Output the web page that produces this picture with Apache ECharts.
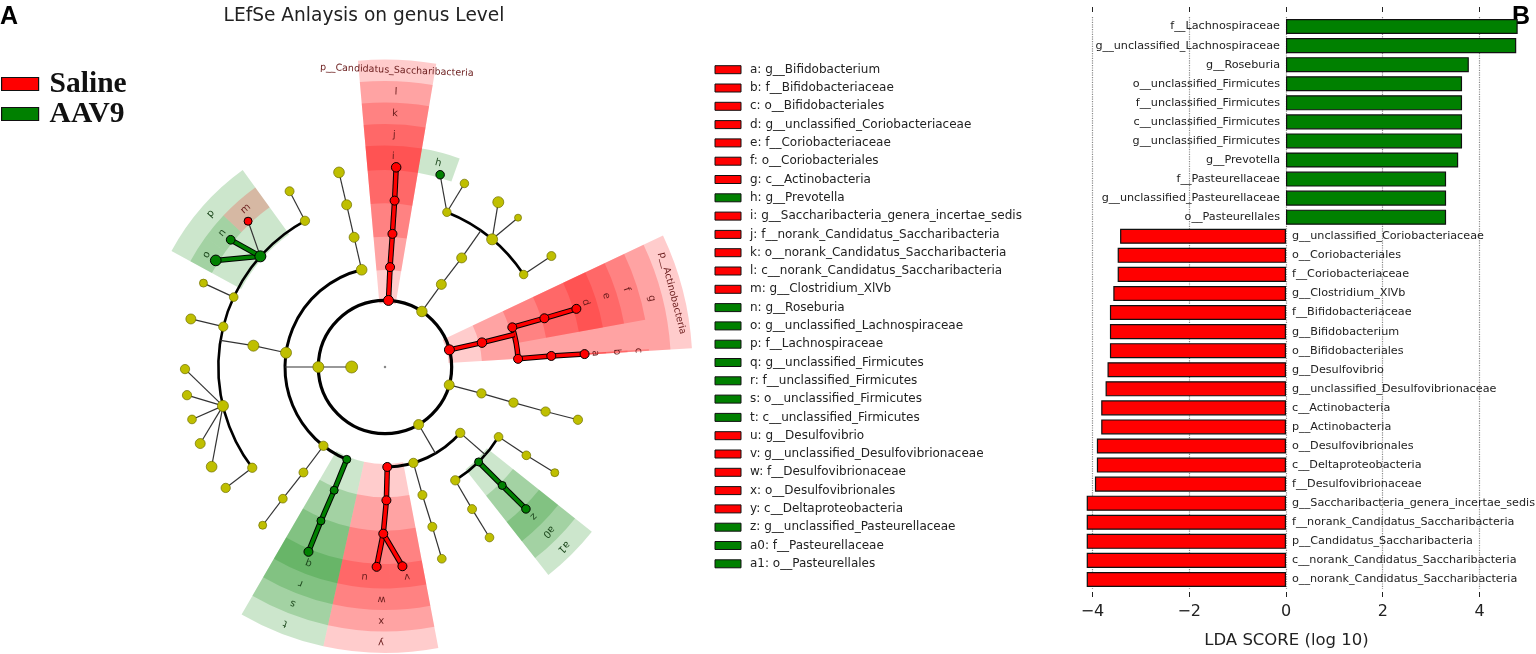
<!DOCTYPE html>
<html><head><meta charset="utf-8">
<script src="https://cdn.jsdelivr.net/npm/echarts@6/dist/echarts.min.js"></script>
<style>html,body{margin:0;padding:0;background:#fff}#c{width:1536px;height:654px}</style>
</head><body><div id="c"></div>
<script>
// ---------------- Bar chart (panel B) ----------------
const barNames = [
  'f__Lachnospiraceae','g__unclassified_Lachnospiraceae','g__Roseburia','o__unclassified_Firmicutes',
  'f__unclassified_Firmicutes','c__unclassified_Firmicutes','g__unclassified_Firmicutes','g__Prevotella',
  'f__Pasteurellaceae','g__unclassified_Pasteurellaceae','o__Pasteurellales',
  'g__unclassified_Coriobacteriaceae','o__Coriobacteriales','f__Coriobacteriaceae','g__Clostridium_XlVb',
  'f__Bifidobacteriaceae','g__Bifidobacterium','o__Bifidobacteriales','g__Desulfovibrio',
  'g__unclassified_Desulfovibrionaceae','c__Actinobacteria','p__Actinobacteria','o__Desulfovibrionales',
  'c__Deltaproteobacteria','f__Desulfovibrionaceae','g__Saccharibacteria_genera_incertae_sedis',
  'f__norank_Candidatus_Saccharibacteria','p__Candidatus_Saccharibacteria',
  'c__norank_Candidatus_Saccharibacteria','o__norank_Candidatus_Saccharibacteria'
];
const barValues = [
  4.79, 4.76, 3.78, 3.64, 3.64, 3.64, 3.64, 3.56, 3.31, 3.31, 3.31,
  -3.43, -3.48, -3.48, -3.57, -3.64, -3.64, -3.64, -3.69, -3.73, -3.82, -3.82,
  -3.91, -3.91, -3.95, -4.12, -4.12, -4.12, -4.12, -4.12
];
const ldaTicks = [-4, -2, 0, 2, 4];
const groupNames = ['Saline', 'AAV9'];

// ---------------- Cladogram legend (panel A) ----------------
const legendLetters = ['a','b','c','d','e','f','g','h','i','j','k','l','m','n','o','p','q','r','s','t','u','v','w','x','y','z','a0','a1'];
const legendTaxa = [
  'g__Bifidobacterium','f__Bifidobacteriaceae','o__Bifidobacteriales','g__unclassified_Coriobacteriaceae',
  'f__Coriobacteriaceae','o__Coriobacteriales','c__Actinobacteria','g__Prevotella',
  'g__Saccharibacteria_genera_incertae_sedis','f__norank_Candidatus_Saccharibacteria',
  'o__norank_Candidatus_Saccharibacteria','c__norank_Candidatus_Saccharibacteria','g__Clostridium_XlVb',
  'g__Roseburia','g__unclassified_Lachnospiraceae','f__Lachnospiraceae','g__unclassified_Firmicutes',
  'f__unclassified_Firmicutes','o__unclassified_Firmicutes','c__unclassified_Firmicutes','g__Desulfovibrio',
  'g__unclassified_Desulfovibrionaceae','f__Desulfovibrionaceae','o__Desulfovibrionales',
  'c__Deltaproteobacteria','g__unclassified_Pasteurellaceae','f__Pasteurellaceae','o__Pasteurellales'
];
const legendNodes = ['G_bif','F_bif','O_bif','G_cor','F_cor','O_cor','C_act','G_prev','G_sac','F_sac','O_sac','C_sac',
  'G_clx','G_ros','G_ulc','F_lac','G_ucf','F_ucf','O_ucf','C_ucf','G_dsv','G_ucd','F_des','O_des','C_del','G_pas','F_pas','O_pas'];
const phylumLabelNodes = ['P_sac', 'P_act'];
const phylumLabelTexts = ['p__Candidatus_Saccharibacteria', 'p__Actinobacteria'];

// ---------------- Cladogram tree: [id, parent, level, angle(deg, clockwise from top), group, node size] ----------------
const treeNodes = [
  ['root',null,0,0,'k',2.5],
  ['K','root',1,270,'y',12],
  ['P_sac','K',2,3.0,'r',10], ['P_bac','K',2,33.6,'y',10.5], ['P_act','K',2,75.1,'r',10],
  ['P_x','K',2,105.6,'y',10], ['P_pro','K',2,149.7,'y',10], ['P_fir','K',2,270,'y',11],
  ['C_sac','P_sac',3,2.9,'r',9], ['O_sac','C_sac',4,3.2,'r',9], ['F_sac','O_sac',5,3.3,'r',9], ['G_sac','F_sac',6,3.2,'r',9.5],
  ['C_bac','P_bac',3,34.3,'y',10], ['O_bac','C_bac',4,35.1,'y',10],
  ['F_bac1','O_bac',5,21.8,'y',8.5], ['G_prev','F_bac1',6,16,'g',8.5], ['G_bac2','F_bac1',6,23.4,'y',8.5],
  ['F_bac2','O_bac',5,40,'y',11], ['G_bac3','F_bac2',6,34.5,'y',11], ['G_bac4','F_bac2',6,41.7,'y',7],
  ['F_bac3','O_bac',5,56.3,'y',8.5], ['G_bac5','F_bac3',6,56.3,'y',9],
  ['C_act','P_act',3,75.9,'r',9.5],
  ['O_cor','C_act',4,72.7,'r',9], ['F_cor','O_cor',5,73,'r',9], ['G_cor','F_cor',6,73.1,'r',9],
  ['O_bif','C_act',4,86.5,'r',9], ['F_bif','O_bif',5,86.2,'r',9], ['G_bif','F_bif',6,86.3,'r',9],
  ['C_x','P_x',3,105.3,'y',9.3], ['O_x','C_x',4,105.5,'y',9.3], ['F_x','O_x',5,105.5,'y',9.3], ['G_x','F_x',6,105.3,'y',9.3],
  ['C_gam','P_pro',3,131.2,'y',9.3],
  ['O_g1','C_gam',4,121.6,'y',8.7], ['F_g1','O_g1',5,122,'y',8.7], ['G_g1','F_g1',6,121.9,'y',8],
  ['O_pas','C_gam',4,135.4,'g',8], ['F_pas','O_pas',5,135.3,'g',8], ['G_pas','F_pas',6,135.2,'g',8.5],
  ['O_g3','C_gam',4,148.2,'y',9.3], ['F_g3','O_g3',5,148.5,'y',9], ['G_g3','F_g3',6,148.5,'y',8.7],
  ['C_b2','P_pro',3,163.5,'y',9.3], ['O_b2','C_b2',4,163.7,'y',9], ['F_b2','O_b2',5,163.5,'y',9], ['G_b2','F_b2',6,163.5,'y',8.7],
  ['C_del','P_pro',3,178.7,'r',9], ['O_des','C_del',4,179.4,'r',9], ['F_des','O_des',5,180.6,'r',9],
  ['G_dsv','F_des',6,182.4,'r',9], ['G_ucd','F_des',6,175,'r',9],
  ['C_ucf','P_fir',3,202.5,'g',8], ['O_ucf','C_ucf',4,202.4,'g',8], ['F_ucf','O_ucf',5,202.6,'g',8], ['G_ucf','F_ucf',6,202.5,'g',9],
  ['C_f2','P_fir',3,218,'y',9.3], ['O_f2','C_f2',4,217.7,'y',9], ['F_f2','O_f2',5,217.8,'y',8.7], ['G_f2','F_f2',6,217.7,'y',8],
  ['C_clo','P_fir',3,278.2,'y',11], ['O_clo','C_clo',4,279.2,'y',11],
  ['F_c1','O_clo',5,232.8,'y',9.3], ['G_c1','F_c1',6,232.8,'y',9.3],
  ['F_c2','O_clo',5,256.5,'y',11], ['G_c2a','F_c2',6,240.1,'y',10.7], ['G_c2b','F_c2',6,247.5,'y',10],
  ['G_c2c','F_c2',6,254.8,'y',8.7], ['G_c2d','F_c2',6,261.9,'y',9.3], ['G_c2e','F_c2',6,269.4,'y',9.3],
  ['F_c3','O_clo',5,284,'y',9.3], ['G_c3','F_c3',6,283.9,'y',10],
  ['F_c4','O_clo',5,294.8,'y',8.7], ['G_c4','F_c4',6,294.8,'y',8],
  ['F_lac','O_clo',5,311.6,'g',11], ['G_ulc','F_lac',6,302.2,'g',10.7], ['G_ros','F_lac',6,309.5,'g',8.7], ['G_clx','F_lac',6,316.8,'r',8],
  ['F_c6','O_clo',5,331.3,'y',9.3], ['G_c6','F_c6',6,331.5,'y',9],
  ['C_f4','P_fir',3,346.5,'y',10.7], ['O_f4','C_f4',4,346.6,'y',10], ['F_f4','O_f4',5,346.7,'y',10], ['G_f4','F_f4',6,346.7,'y',10.7]
];
// leaf whose highlight slot is drawn (almost) empty in the reference
const slotOverrideNodes = ['G_bif'];
const slotOverrideRanges = [[86.1, 86.5]];

// ---------------- build ----------------
const COL = {y:'#bfbf00', r:'#ff0000', g:'#008000', k:'#888888'};
const SHADE = ['rgba(255,0,0,0.2)', 'rgba(0,128,0,0.2)'];
const TXT = {r:'#6b1d1d', g:'#1f4a1f'};
const RING = 0.645;
const outerR = lvl => 6 + RING * (7 - lvl);

const nodes = treeNodes.map(t => ({id:t[0], parent:t[1], level:t[2], ang:t[3], col:t[4], size:t[5], kids:[]}));
const byId = {};
nodes.forEach(n => byId[n.id] = n);
nodes.forEach(n => { if (n.parent) byId[n.parent].kids.push(n); });

const leaves = nodes.filter(n => n.kids.length === 0).sort((a, b) => a.ang - b.ang);
leaves.forEach((n, i) => {
  const N = leaves.length;
  let pa = leaves[(i - 1 + N) % N].ang, na = leaves[(i + 1) % N].ang;
  if (i === 0) pa -= 360;
  if (i === N - 1) na += 360;
  n.slot = [(pa + n.ang) / 2, (n.ang + na) / 2];
});
slotOverrideNodes.forEach((id, i) => { byId[id].slot = slotOverrideRanges[i]; });
function leafSpan(n) {
  if (!n.kids.length) return n.slot.slice();
  let s = Infinity, e = -Infinity;
  n.kids.forEach(k => { const sp = leafSpan(k); s = Math.min(s, sp[0]); e = Math.max(e, sp[1]); });
  return [s, e];
}

const sectorData = [];
nodes.forEach(n => {
  if ((n.col === 'r' || n.col === 'g') && n.level >= 2) {
    n.span = leafSpan(n);
    sectorData.push([n.level - 0.09, n.span[0], outerR(n.level), n.span[1], n.col === 'r' ? 0 : 1]);
  }
});

const labelList = [];
legendLetters.forEach((l, i) => {
  const n = byId[legendNodes[i]];
  labelList.push({text:l, r:outerR(n.level) - RING / 2, ang:(n.span[0] + n.span[1]) / 2, color:TXT[n.col], fs:10});
});
phylumLabelNodes.forEach((id, i) => {
  const n = byId[id];
  labelList.push({text:phylumLabelTexts[i], r:outerR(n.level) - RING / 2, ang:(n.span[0] + n.span[1]) / 2, color:TXT[n.col], fs:9.5});
});

const sty = c => c === 'r' ? 1 : (c === 'g' ? 2 : 0);
const lineData = [], arcData = [];
nodes.forEach(p => {
  const C = p.kids;
  if (!C.length || p.level === 0) return;
  if (p.level === 1) { lineData.push([1, p.ang, 2, p.ang, 0]); arcData.push([2, 0, 360, 0]); return; }
  if (C.length === 1 || C[0].level === 6) {
    C.forEach(c => lineData.push([p.level, p.ang, c.level, c.ang, (p.col !== 'y' && p.col === c.col) ? sty(p.col) : 0]));
    return;
  }
  const rc = C[0].level;
  const same = p.col !== 'y' && C.every(c => c.col === p.col);
  const s = same ? sty(p.col) : 0;
  lineData.push([p.level, p.ang, rc, p.ang, s]);
  const angs = C.map(c => c.ang).concat([p.ang]);
  arcData.push([rc, Math.min.apply(null, angs), Math.max.apply(null, angs), s]);
});

function scr(api, params, r, a) {
  const p = api.coord([r, ((a % 360) + 360) % 360]);
  const cx = params.coordSys.cx, cy = params.coordSys.cy;
  return {x:p[0], y:p[1], rad:Math.hypot(p[0] - cx, p[1] - cy), ang:Math.atan2(p[1] - cy, p[0] - cx), cx:cx, cy:cy};
}
const EDGE_COL = ['#333333', '#ff0000', '#008000'];
const ARC_W = {2:3.2, 3:3, 4:2.8, 5:2.6, 6:2.4};

// ---------------- graphics (legend list, letters, title) ----------------
const graphics = [];
const rowTop = 69.7, rowPitch = 18.3;
legendLetters.forEach((l, i) => {
  const y = rowTop + i * rowPitch;
  const n = byId[legendNodes[i]];
  graphics.push({type:'rect', shape:{x:715, y:y - 4, width:26, height:8}, style:{fill:COL[n.col], stroke:'#111', lineWidth:1}});
  graphics.push({type:'text', x:750, y:y, style:{text:l + ': ' + legendTaxa[i], fontSize:12, fontFamily:'DejaVu Sans', fill:'#222', verticalAlign:'middle'}});
});
graphics.push({type:'text', x:364, y:16, style:{text:'LEfSe Anlaysis on genus Level', fontSize:18.6, fontFamily:'DejaVu Sans', fill:'#222', align:'center', verticalAlign:'middle'}});
graphics.push({type:'text', x:0, y:17, style:{text:'A', fontSize:25, fontWeight:'bold', fontFamily:'Liberation Sans', fill:'#000', verticalAlign:'middle'}});
graphics.push({type:'text', x:1512, y:17, style:{text:'B', fontSize:25, fontWeight:'bold', fontFamily:'Liberation Sans', fill:'#000', verticalAlign:'middle'}});

const chart = echarts.init(document.getElementById('c'));
chart.setOption({
  animation: false,
  backgroundColor: '#fff',
  graphic: graphics,
  legend: {
    data: groupNames, orient:'vertical', left:-4, top:64, itemWidth:37, itemHeight:13, itemGap:0,
    icon:'rect',
    itemStyle:{borderColor:'#111', borderWidth:1.2},
    textStyle:{fontFamily:'Liberation Serif', fontWeight:'bold', fontSize:29.5, color:'#111', lineHeight:27, padding:[0,0,0,6]}
  },
  polar: {center:[385, 367], radius:333.33},
  radiusAxis: {type:'value', min:0, max:10, show:false},
  angleAxis: {type:'value', min:0, max:360, startAngle:90, clockwise:true, show:false},
  grid: {left:1078, right:13, top:17, bottom:57},
  xAxis: [{
    type:'value', min:-4.3, max:4.9, position:'bottom', offset:3,
    axisLine:{show:false},
    axisTick:{show:true, length:5, customValues:ldaTicks, lineStyle:{color:'#222'}},
    axisLabel:{customValues:ldaTicks, margin:12, fontSize:16, fontFamily:'DejaVu Sans', color:'#222',
      formatter: v => v < 0 ? '\u2212' + Math.abs(v) : String(v)},
    splitLine:{show:true, lineStyle:{type:'dotted', color:'#8a8a8a', width:1.2}},
    name:'LDA SCORE (log 10)', nameLocation:'middle', nameGap:40,
    nameTextStyle:{fontSize:16.5, fontFamily:'DejaVu Sans', color:'#222', padding:[0,28,0,0]}
  }, {
    type:'value', min:-4.3, max:4.9, position:'top', offset:5,
    axisLine:{show:false},
    axisTick:{show:true, length:5, customValues:ldaTicks, lineStyle:{color:'#222'}},
    axisLabel:{show:false}, splitLine:{show:false}
  }],
  yAxis: {type:'category', data:barNames, inverse:true, show:false},
  series: [
    {
      name:'Saline', type:'bar', xAxisIndex:0, barGap:'-100%', barCategoryGap:'21%',
      data: barValues.map(v => v < 0 ? v : '-'),
      itemStyle:{color:'#ff0000', borderColor:'#111', borderWidth:1.2},
      label:{show:true, position:'right', distance:6, fontSize:11.2, fontFamily:'DejaVu Sans', color:'#222',
        formatter: p => barNames[p.dataIndex]}
    },
    {
      name:'AAV9', type:'bar', xAxisIndex:0, barGap:'-100%', barCategoryGap:'21%',
      data: barValues.map(v => v > 0 ? v : '-'),
      itemStyle:{color:'#008000', borderColor:'#111', borderWidth:1.2},
      label:{show:true, position:'left', distance:6, fontSize:11.2, fontFamily:'DejaVu Sans', color:'#222',
        formatter: p => barNames[p.dataIndex]}
    },
    {
      type:'custom', coordinateSystem:'polar', z:1, silent:true, data:sectorData,
      renderItem: (params, api) => {
        const p0 = scr(api, params, api.value(0), api.value(1));
        const p1 = scr(api, params, api.value(2), api.value(3));
        let s = p0.ang, e = p1.ang;
        if (e < s) e += Math.PI * 2;
        return {type:'sector', shape:{cx:p0.cx, cy:p0.cy, r0:p0.rad, r:p1.rad, startAngle:s, endAngle:e, clockwise:true},
          style:{fill:SHADE[api.value(4)]}};
      }
    },
    {
      type:'custom', coordinateSystem:'polar', z:2, silent:true, data:arcData,
      renderItem: (params, api) => {
        const lvl = api.value(0), si = api.value(3);
        const p0 = scr(api, params, lvl, api.value(1));
        const p1 = scr(api, params, lvl, api.value(2));
        let s = p0.ang, e = p1.ang;
        if (e <= s) e += Math.PI * 2;
        const shape = {cx:p0.cx, cy:p0.cy, r:p0.rad, startAngle:s, endAngle:e, clockwise:true};
        if (si === 0) return {type:'arc', shape:shape, style:{stroke:'#000', lineWidth:ARC_W[lvl] || 2.6, fill:null}};
        return {type:'group', children:[
          {type:'arc', shape:shape, style:{stroke:'#000', lineWidth:5.5, fill:null}},
          {type:'arc', shape:shape, style:{stroke:EDGE_COL[si], lineWidth:3.5, fill:null}}
        ]};
      }
    },
    {
      type:'custom', coordinateSystem:'polar', z:3, silent:true, data:lineData,
      renderItem: (params, api) => {
        const si = api.value(4);
        const a = scr(api, params, api.value(0), api.value(1));
        const b = scr(api, params, api.value(2), api.value(3));
        const shape = {x1:a.x, y1:a.y, x2:b.x, y2:b.y};
        if (si === 0) return {type:'line', shape:shape, style:{stroke:'#333', lineWidth:1.2}};
        return {type:'group', children:[
          {type:'line', shape:shape, style:{stroke:'#000', lineWidth:5.5}},
          {type:'line', shape:shape, style:{stroke:EDGE_COL[si], lineWidth:3.5}}
        ]};
      }
    },
    {
      type:'scatter', coordinateSystem:'polar', z:4, silent:true,
      data: nodes.map(n => ({
        value:[n.level, n.ang], symbolSize:n.size,
        itemStyle:{color:COL[n.col], borderColor: n.col === 'y' ? '#6e6e00' : (n.col === 'k' ? '#888' : '#000'),
          borderWidth: n.col === 'y' ? 0.7 : (n.col === 'k' ? 0 : 1), opacity:1}
      }))
    },
    {
      type:'custom', coordinateSystem:'polar', z:5, silent:true,
      data: labelList.map(l => [l.r, l.ang]),
      renderItem: (params, api) => {
        const lb = labelList[params.dataIndex];
        const p = scr(api, params, api.value(0), api.value(1));
        return {type:'text', x:p.x, y:p.y, rotation:-lb.ang * Math.PI / 180,
          style:{text:lb.text, fill:lb.color, fontSize:lb.fs, fontFamily:'DejaVu Sans', align:'center', verticalAlign:'middle'}};
      }
    }
  ]
});
</script>
</body></html>
